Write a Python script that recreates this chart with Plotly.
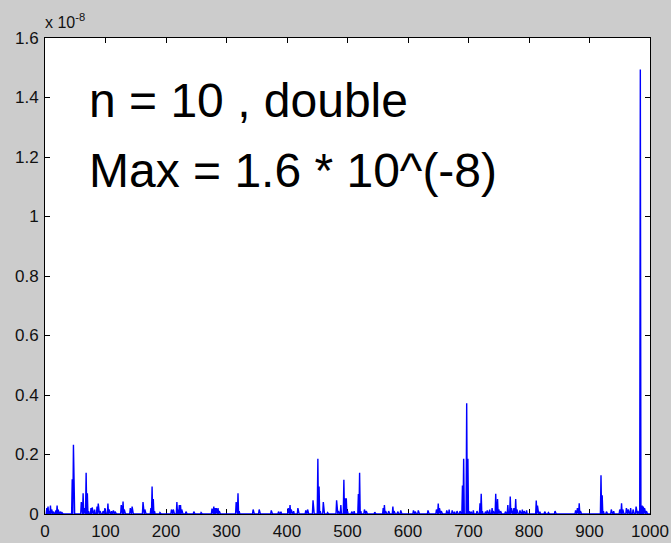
import numpy as np
import plotly.graph_objects as go

# Error per sample index (units of 1e-8); samples not listed are ~0
n_samples = 1000
spike_index = [
    3, 5, 7, 9, 11, 14, 18, 20, 22, 25, 28,
    45, 47,
    60, 63, 65, 68, 70, 72,
    76, 78, 82, 86, 88, 91,
    96, 99, 104, 106, 110, 113, 116,
    126, 129, 131, 141, 144, 162, 165,
    175, 177, 179, 181, 190,
    209, 212, 218, 220, 222, 224, 226,
    233, 246, 258, 276, 279, 281, 283, 286, 288,
    316, 319, 321,
    344, 354, 374, 386, 390, 402, 405, 407, 411, 418, 431, 434,
    443, 451, 453, 455, 460, 467,
    482, 485, 489, 494, 496, 498, 500,
    507, 511, 518, 520, 522, 528, 531,
    545, 559, 561, 563, 568, 575, 577, 583, 588, 609, 612, 617, 633,
    647, 650, 652, 655,
    664, 668, 673, 677, 681, 686,
    690, 692, 697, 699, 701, 704, 708,
    714, 719, 721, 723, 728, 731, 735, 739, 741,
    745, 748, 750, 753,
    761, 765, 769, 771, 775, 778, 780,
    785, 789, 792, 796,
    812, 814, 818, 826, 832, 843,
    877, 880, 883, 885,
    919, 921, 923, 928, 936, 940,
    950, 953, 955, 961, 964, 968, 972, 977, 980,
    984, 987, 989, 991, 994,
]
spike_value = [
    0.020, 0.025, 0.010, 0.028, 0.015, 0.008, 0.012, 0.028, 0.015, 0.008, 0.005,
    0.117, 0.233,
    0.040, 0.070, 0.020, 0.139, 0.070, 0.010,
    0.020, 0.022, 0.015, 0.025, 0.035, 0.010,
    0.010, 0.020, 0.035, 0.015, 0.010, 0.012, 0.008,
    0.030, 0.042, 0.015, 0.020, 0.025, 0.040, 0.015,
    0.020, 0.092, 0.050, 0.010, 0.005,
    0.015, 0.015, 0.040, 0.015, 0.030, 0.030, 0.015,
    0.008, 0.008, 0.005, 0.018, 0.025, 0.020, 0.020, 0.020, 0.010,
    0.040, 0.070, 0.010,
    0.015, 0.015, 0.012, 0.008, 0.008, 0.020, 0.030, 0.015, 0.010, 0.020, 0.012, 0.015,
    0.046, 0.186, 0.092, 0.010, 0.040, 0.005,
    0.046, 0.010, 0.030, 0.115, 0.053, 0.053, 0.010,
    0.008, 0.010, 0.067, 0.139, 0.010, 0.015, 0.010,
    0.006, 0.020, 0.030, 0.010, 0.010, 0.025, 0.010, 0.008, 0.012, 0.012, 0.008, 0.012, 0.012,
    0.015, 0.035, 0.020, 0.010,
    0.012, 0.015, 0.012, 0.008, 0.010, 0.010,
    0.096, 0.186, 0.372, 0.186, 0.010, 0.008, 0.012,
    0.010, 0.036, 0.068, 0.010, 0.008, 0.012, 0.015, 0.020, 0.010,
    0.068, 0.050, 0.015, 0.010,
    0.008, 0.030, 0.059, 0.020, 0.020, 0.050, 0.015,
    0.012, 0.015, 0.010, 0.012,
    0.045, 0.028, 0.008, 0.008, 0.005, 0.010,
    0.012, 0.020, 0.036, 0.010,
    0.130, 0.063, 0.010, 0.008, 0.015, 0.010,
    0.015, 0.036, 0.015, 0.020, 0.015, 0.020, 0.015, 0.025, 0.010,
    1.494, 0.028, 0.025, 0.020, 0.010,
]

x_tick_vals = [0, 100, 200, 300, 400, 500, 600, 700, 800, 900, 1000]
y_tick_vals = [0, 0.2, 0.4, 0.6, 0.8, 1.0, 1.2, 1.4, 1.6]
y_tick_text = ["0", "0.2", "0.4", "0.6", "0.8", "1", "1.2", "1.4", "1.6"]

x = np.arange(1, n_samples + 1)
err = np.zeros(n_samples)
for i, v in zip(spike_index, spike_value):
    err[i - 1] = v

FONT = "Arial, Liberation Sans, sans-serif"

fig = go.Figure()
fig.add_trace(go.Scatter(
    x=x, y=err, mode="lines",
    line=dict(color="#0000ff", width=1.4),
    hoverinfo="skip", showlegend=False,
))

axis_common = dict(
    showline=True, linecolor="black", linewidth=1, mirror="allticks",
    ticks="inside", ticklen=5, tickcolor="black", tickwidth=1,
    showgrid=False, zeroline=False, layer="below traces", automargin=False,
    tickfont=dict(family=FONT, size=17, color="#111111"),
)

fig.update_layout(
    width=671, height=543,
    margin=dict(l=45, r=21, t=38, b=29),
    paper_bgcolor="#cccccc",
    plot_bgcolor="white",
    xaxis=dict(range=[0, 1000], tickvals=x_tick_vals, ticklabelstandoff=2, **axis_common),
    yaxis=dict(range=[0, 1.6], tickvals=y_tick_vals, ticktext=y_tick_text,
               ticklabelstandoff=2, **axis_common),
    annotations=[
        dict(text="x 10<sup>-8</sup>", xref="paper", yref="paper",
             x=-0.003, y=1, xanchor="left", yanchor="bottom", yshift=5, showarrow=False,
             font=dict(family=FONT, size=16, color="#111111")),
        dict(text="n = 10 , double", xref="paper", yref="paper",
             x=0.0694, y=0.868, xanchor="left", yanchor="middle", showarrow=False,
             font=dict(family=FONT, size=48, color="black")),
        dict(text="Max = 1.6 * 10^(-8)", xref="paper", yref="paper",
             x=0.0694, y=0.721, xanchor="left", yanchor="middle", showarrow=False,
             font=dict(family=FONT, size=48, color="black")),
    ],
)

fig.write_html("out.html")
